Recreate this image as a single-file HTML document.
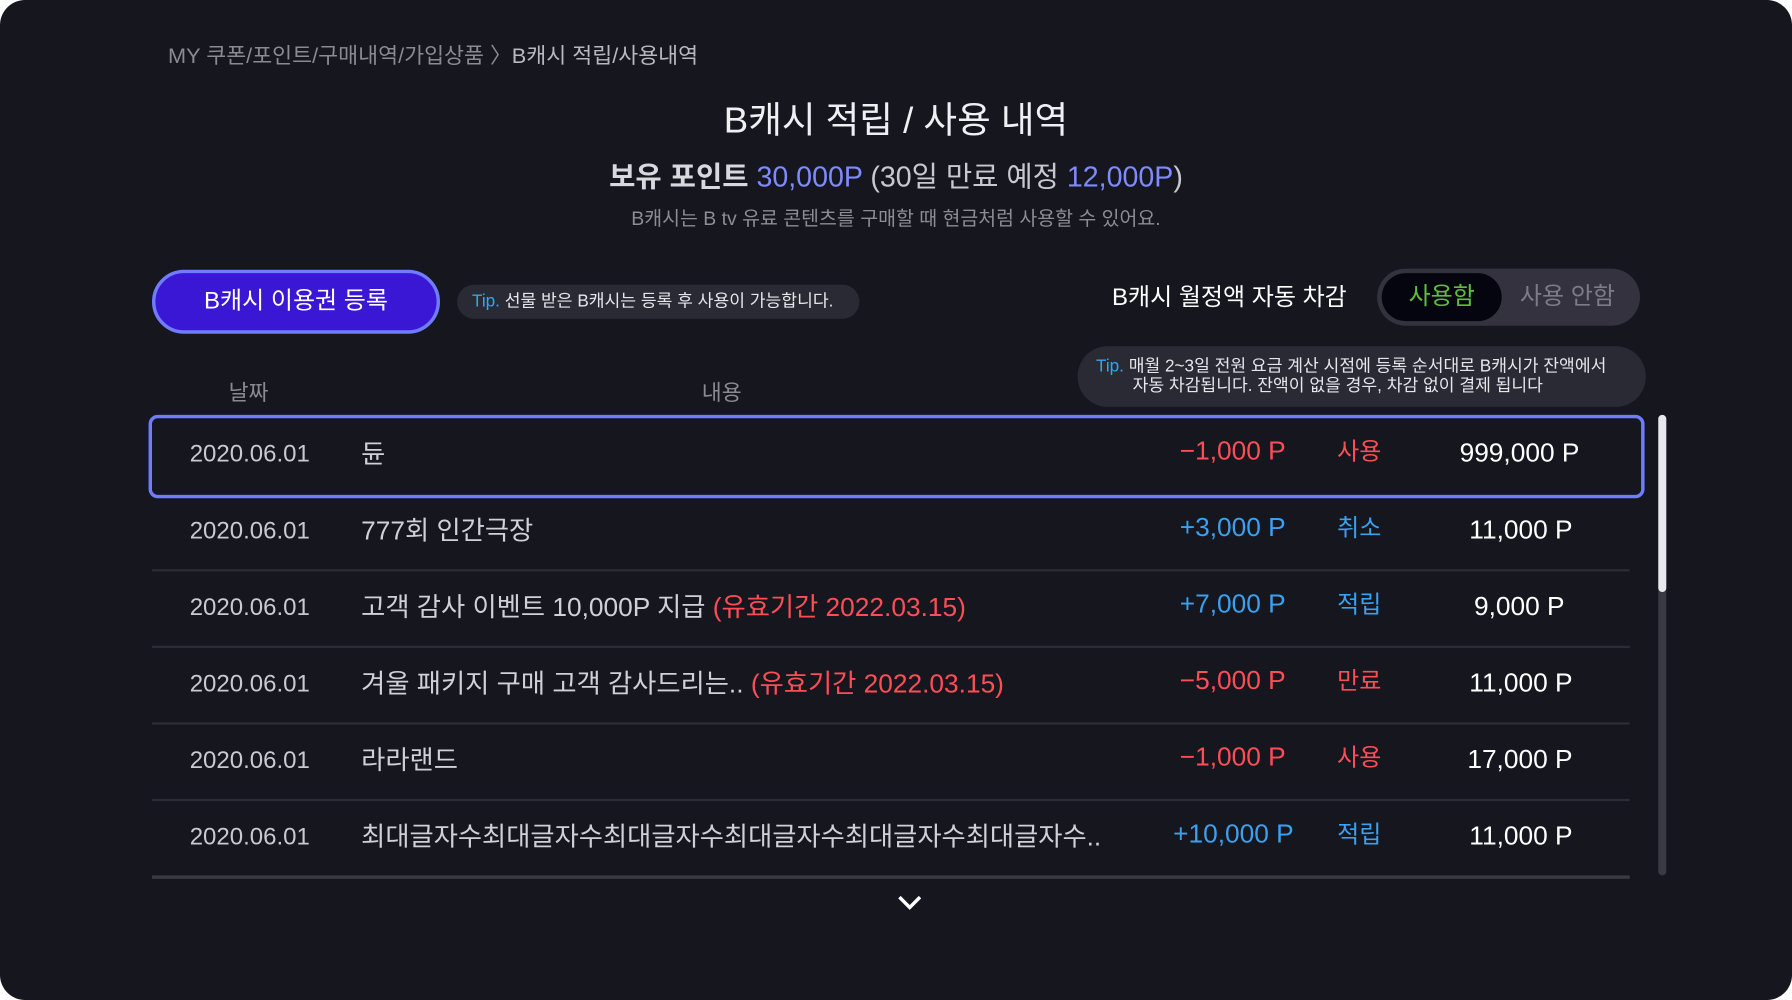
<!DOCTYPE html>
<html><head><meta charset="utf-8">
<style>
html,body{margin:0;padding:0;width:1792px;height:1000px;overflow:hidden;background:#fff;}
#s{position:absolute;left:0;top:0;width:1568px;height:875px;transform:scale(1.142857);transform-origin:0 0;background:#16161f;border-radius:22px;overflow:hidden;font-family:"Liberation Sans","Noto Sans CJK KR",sans-serif;color:#e8e8ee;}
.a{position:absolute;white-space:nowrap;}
.row{position:absolute;left:133px;width:1293px;height:66px;border-bottom:2px solid #2c2c36;}
.row .d{position:absolute;left:33px;top:21px;font-size:21px;color:#c9c9d0;}
.row .t{position:absolute;left:183px;top:13px;font-size:23px;color:#d0d0d6;}
.row .p{position:absolute;right:301px;top:16px;font-size:23px;}
.row .k{position:absolute;left:1037px;top:14px;font-size:21px;}
.row .b{position:absolute;right:44px;top:18px;font-size:23px;color:#fff;}
.red{color:#ff4d55;} .blue{color:#3aa0f0;}
</style></head><body>
<div id="s">
<div class="a" style="left:147px;top:34px;font-size:19px;color:#8a8a93">MY 쿠폰/포인트/구매내역/가입상품 〉<span style="color:#b8b8c0">B캐시 적립/사용내역</span></div>
<div class="a" style="left:0;width:1568px;text-align:center;top:80px;font-size:32px;color:#f0f0f4">B캐시 적립 / 사용 내역</div>
<div class="a" style="left:0;width:1568px;text-align:center;top:135px;font-size:25px;color:#c8c8d0"><b style="font-weight:600;color:#d8d8de">보유 포인트</b> <span style="color:#7d8bff">30,000P</span> (30일 만료 예정 <span style="color:#7d8bff">12,000P</span>)</div>
<div class="a" style="left:0;width:1568px;text-align:center;top:177px;font-size:17px;color:#8c8c95">B캐시는 B tv 유료 콘텐츠를 구매할 때 현금처럼 사용할 수 있어요.</div>

<div class="a" style="left:133px;top:236px;width:246px;height:50px;border:3px solid #6f7cff;border-radius:30px;background:#3a17d4;text-align:center;line-height:50px;font-size:21px;color:#fff">B캐시 이용권 등록</div>
<div class="a" style="left:400px;top:249px;width:352px;height:30px;border-radius:15px;background:#2a2a35;font-size:15px;line-height:30px;padding-left:13px;box-sizing:border-box;color:#e6e6ea"><span style="color:#2fa8f0">Tip.</span> 선물 받은 B캐시는 등록 후 사용이 가능합니다.</div>

<div class="a" style="left:973px;top:244px;font-size:21px;color:#fff">B캐시 월정액 자동 차감</div>
<div class="a" style="left:1205px;top:235px;width:230px;height:50px;border-radius:25px;background:#35323f">
 <div class="a" style="left:4px;top:4px;width:105px;height:42px;border-radius:21px;background:#05050f;text-align:center;line-height:42px;font-size:21px;color:#5fbf3a">사용함</div>
 <div class="a" style="left:114px;top:4px;width:105px;height:42px;text-align:center;line-height:42px;font-size:21px;color:#7d7b86">사용 안함</div>
</div>
<div class="a" style="left:943px;top:303px;width:497px;height:53px;border-radius:26px;background:#2a2a35;font-size:15px;color:#e6e6ea;line-height:17px;padding:9px 0 0 16px;box-sizing:border-box"><span style="color:#2fa8f0">Tip.</span> 매월 2~3일 전원 요금 계산 시점에 등록 순서대로 B캐시가 잔액에서<br><span style="padding-left:32px">자동 차감됩니다.  잔액이 없을 경우, 차감 없이 결제 됩니다</span></div>

<div class="a" style="left:200px;top:329px;font-size:19px;color:#8a8a93">날짜</div>
<div class="a" style="left:614px;top:329px;font-size:19px;color:#8a8a93">내용</div>

<div class="row" style="top:365px;border:none"><div class="d">2020.06.01</div><div class="t">듄</div><div class="p red">−1,000 P</div><div class="k red">사용</div><div class="b">999,000 P</div></div>
<div class="a" style="left:130px;top:363px;width:1303px;height:67px;border:3px solid #6f7cff;border-radius:8px"></div>
<div class="row" style="top:432px"><div class="d">2020.06.01</div><div class="t">777회 인간극장</div><div class="p blue">+3,000 P</div><div class="k blue">취소</div><div class="b" style="right:50px">11,000 P</div></div>
<div class="row" style="top:499px"><div class="d">2020.06.01</div><div class="t">고객 감사 이벤트 10,000P 지급 <span class="red">(유효기간 2022.03.15)</span></div><div class="p blue">+7,000 P</div><div class="k blue">적립</div><div class="b" style="right:57px">9,000 P</div></div>
<div class="row" style="top:566px"><div class="d">2020.06.01</div><div class="t">겨울 패키지 구매 고객 감사드리는.. <span class="red">(유효기간 2022.03.15)</span></div><div class="p red">−5,000 P</div><div class="k red">만료</div><div class="b" style="right:50px">11,000 P</div></div>
<div class="row" style="top:633px"><div class="d">2020.06.01</div><div class="t">라라랜드</div><div class="p red">−1,000 P</div><div class="k red">사용</div><div class="b" style="right:50px">17,000 P</div></div>
<div class="row" style="top:700px;border-bottom:3px solid #3a3a44"><div class="d">2020.06.01</div><div class="t">최대글자수최대글자수최대글자수최대글자수최대글자수최대글자수..</div><div class="p blue" style="right:294px">+10,000 P</div><div class="k blue">적립</div><div class="b" style="right:50px">11,000 P</div></div>

<div class="a" style="left:1451px;top:363px;width:7px;height:403px;border-radius:4px;background:#3a3a44"><div style="width:7px;height:155px;border-radius:4px;background:#e8e8ee"></div></div>
<svg class="a" style="left:785px;top:783px" width="22" height="14"><polyline points="2,2 11,11 20,2" fill="none" stroke="#fff" stroke-width="3"/></svg>
</div>
</body></html>
